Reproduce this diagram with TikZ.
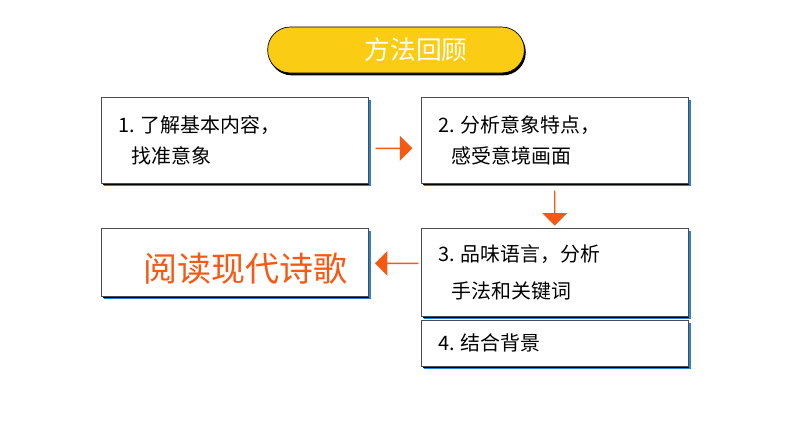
\documentclass[tikz,border=0pt]{standalone}
\usepackage{fontspec}
\newfontfamily\cjk{Noto Sans CJK SC}
\usetikzlibrary{positioning, calc, shapes, shadows}
\definecolor{pillyellow}{RGB}{250,204,20}
\definecolor{arroworange}{RGB}{245,90,20}
\definecolor{shadowblue}{RGB}{40,130,220}

\begin{document}
\begin{tikzpicture}[x=0.03cm, y=-0.03cm, font=\cjk,
	stepbox/.style={draw=black!70, fill=white, line width=0.6pt, rectangle, anchor=north west, inner sep=0pt,
		general shadow={fill=shadowblue, shadow xshift=2.5pt, shadow yshift=-2.5pt},
		general shadow={fill=black, shadow xshift=1.2pt, shadow yshift=-1.2pt}},
	flow/.style={single arrow, fill=arroworange, draw=none, minimum height=1.1cm, minimum width=0.75cm, single arrow head extend=0.12cm, inner sep=0pt}]
	\useasboundingbox (0,0) rectangle (794,447);
	% title
	\node[draw=black, fill=pillyellow, rounded corners=0.68cm, minimum width=7.7cm, minimum height=1.38cm, line width=0.6pt,
		general shadow={fill=black, shadow xshift=1.2pt, shadow yshift=-2pt}]
		(title) at (396,50) {\color{white}\fontsize{22}{22}\selectfont\hspace*{1.2cm}方法回顾};
	% boxes
	\node[stepbox, minimum width=8.0cm, minimum height=2.58cm] (s1) at (101,97) {};
	\node[stepbox, minimum width=8.0cm, minimum height=2.58cm] (s2) at (421,97) {};
	\node[stepbox, minimum width=8.0cm, minimum height=2.64cm] (s3) at (421,228) {};
	\node[stepbox, minimum width=8.0cm, minimum height=1.38cm] (s4) at (421,320) {};
	\node[stepbox, minimum width=8.0cm, minimum height=2.04cm] (goal) at (101,228) {};
	% texts
	\node[anchor=west, align=left, font=\cjk\fontsize{17}{26}\selectfont] at ($(s1.west)+(13,0)$) {1. 了解基本内容，\\\ \ \ 找准意象};
	\node[anchor=west, align=left, font=\cjk\fontsize{17}{26}\selectfont] at ($(s2.west)+(13,0)$) {2. 分析意象特点，\\\ \ \ 感受意境画面};
	\node[anchor=west, align=left, font=\cjk\fontsize{17}{31}\selectfont] at ($(s3.west)+(13,0)$) {3. 品味语言，分析\\\ \ \ 手法和关键词};
	\node[anchor=west, font=\cjk\fontsize{17}{26}\selectfont] at ($(s4.west)+(13,0)$) {4. 结合背景};
	\node[anchor=west, text=arroworange, font=\cjk\fontsize{29}{29}\selectfont] at ($(goal.west)+(38,6)$) {阅读现代诗歌};
	% arrows
	\node[flow] (a1) at ($(s1.east)!0.5!(s2.west)+(-1,8)$) {};
	\node[flow, rotate=-90, minimum height=1.05cm] (a2) at ($(s2.south)+(0,24)$) {};
	\node[flow, rotate=180, minimum height=1.3cm] (a3) at ($(s3.west)+(-24,-9)$) {};
\end{tikzpicture}
\end{document}
